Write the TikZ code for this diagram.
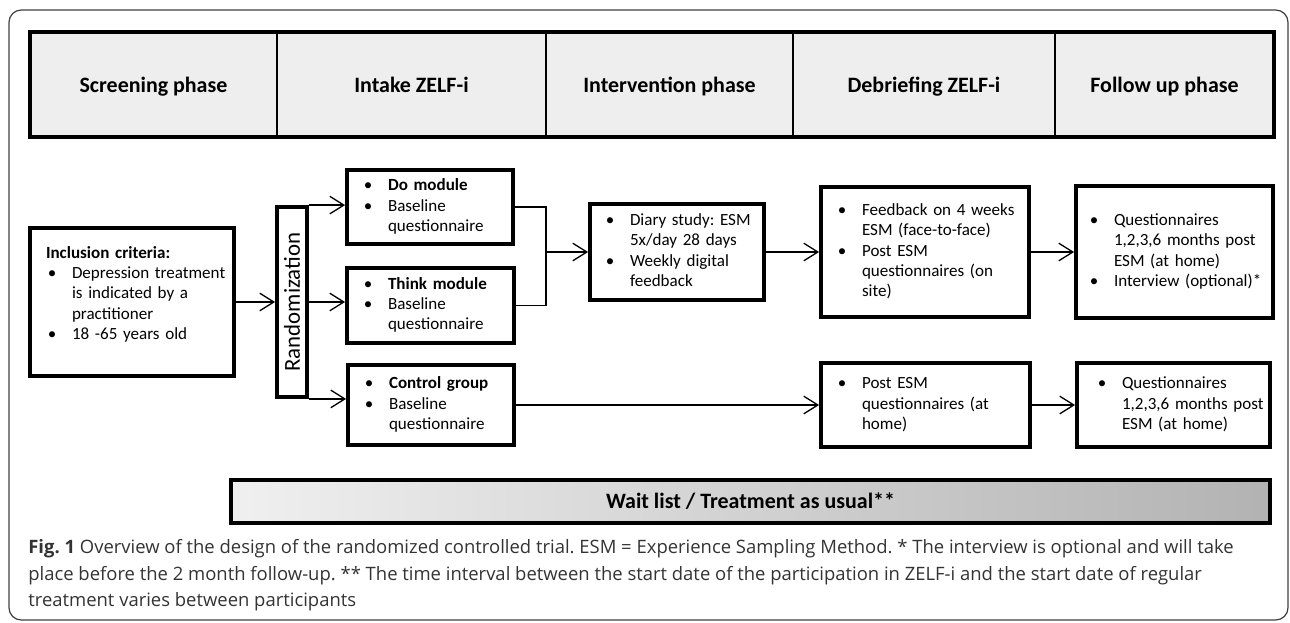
\documentclass[tikz,border=0pt]{standalone}
\usepackage{fontspec}
\setmainfont{Carlito}
\newfontfamily\capfont{Open Sans}
\usepackage{graphicx}
\usepackage{tikz}
\usetikzlibrary{arrows.meta,positioning}
\frenchspacing

\newcommand{\bl}{\hspace{1pt}\textbullet}
\newcommand{\blist}[1]{\begin{tabular}{@{}p{0.52cm}@{}l@{}}#1\end{tabular}}

\begin{document}
\begin{tikzpicture}[x=0.02cm,y=-0.02cm,
  box/.style={draw,line width=2.2pt,inner xsep=0.3cm,inner ysep=0pt,font=\fontsize{9.7}{11.4}\selectfont},
  head/.style={anchor=base,font=\fontsize{12.5}{15}\selectfont\bfseries},
  arr/.style={line width=0.75pt,-{Straight Barb[length=8pt,width=10pt]}},
  lnk/.style={line width=0.75pt}]

\useasboundingbox (0,0) rectangle (1290,622);
\draw[rounded corners=7pt,line width=0.7pt,black!75] (9,10) rectangle (1288,620);

\fill[gray!13] (30,32) rectangle (1274,137);
\foreach \x in {277,546,793,1055}
  \draw[line width=0.8pt] (\x,32) -- (\x,137);
\draw[line width=2.3pt] (30,32) rectangle (1274,137);

\node[head] (h1) at (153.5,92) {Screening phase};
\node[head] (h2) at (411.5,92) {Intake ZELF-i};
\node[head] (h3) at (669.5,92) {Intervention phase};
\node[head] (h4) at (924,92) {Debriefing ZELF-i};
\node[head] (h5) at (1164.5,92) {Follow up phase};

\node[box,minimum width=4.08cm,minimum height=2.96cm,text width=3.44cm,inner xsep=0.32cm] (incl) at (132,302)
  {\blist{\multicolumn{2}{@{}l@{}}{\textbf{Inclusion criteria:}}\\
   \bl & Depression treatment\\ & is indicated by a\\ & practitioner\\ \bl & 18 -65 years old\\[8pt]}};
\node[box,minimum width=0.6cm,minimum height=3.8cm,inner sep=0pt] (rand) at (292,302)
  {\rotatebox{90}{\fontsize{13}{15}\selectfont Randomization}};

\node[box,minimum width=3.32cm,minimum height=1.48cm,text width=2.72cm] (do) at (430,207)
  {\blist{\bl & \textbf{Do module}\\ \bl & Baseline\\ & questionnaire}};
\node[box,minimum width=3.34cm,minimum height=1.5cm,text width=2.74cm] (think) at (430.5,305.5)
  {\blist{\bl & \textbf{Think module}\\ \bl & Baseline\\ & questionnaire}};
\node[box,minimum width=3.32cm,minimum height=1.6cm,text width=2.72cm] (ctrl) at (431,405)
  {\blist{\bl & \textbf{Control group}\\ \bl & Baseline\\ & questionnaire}};

\node[box,minimum width=3.48cm,minimum height=1.92cm,text width=2.92cm,inner xsep=0.28cm] (diary) at (677,252)
  {\blist{\bl & Diary study: ESM\\ & 5x/day 28 days\\ \bl & Weekly digital\\ & feedback}};
\node[box,minimum width=4.16cm,minimum height=2.6cm,text width=3.56cm] (feed) at (925,252)
  {\blist{\bl & Feedback on 4 weeks\\ & ESM (face-to-face)\\ \bl & Post ESM\\ & questionnaires (on\\ & site)}};
\node[box,minimum width=3.94cm,minimum height=2.64cm,text width=3.46cm,inner xsep=0.24cm] (fup) at (1174.5,252)
  {\blist{\bl & Questionnaires\\ & 1,2,3,6 months post\\ & ESM (at home)\\ \bl & Interview (optional)*}};
\node[box,minimum width=4.18cm,minimum height=1.68cm,text width=3.58cm] (post) at (925.5,405)
  {\blist{\bl & Post ESM\\ & questionnaires (at\\ & home)}};
\node[box,minimum width=3.86cm,minimum height=1.68cm,text width=3.1cm,inner xsep=0.38cm] (fup2) at (1173.5,405)
  {\blist{\bl & Questionnaires\\ & 1,2,3,6 months post\\ & ESM (at home)}};

\draw[arr] (incl) -- (rand);
\draw[arr] (rand.north east) -- (rand.north east -| do.west);
\draw[arr] (rand.east) -- (rand.east -| think.west);
\draw[arr] (rand.south east) -- (rand.south east -| ctrl.west);
\coordinate (merge) at (546,252);
\draw[lnk] (do.east) -| (merge) |- (think.east);
\draw[arr] (merge) -- (diary.west);
\draw[arr] (diary) -- (feed);
\draw[arr] (feed) -- (fup);
\draw[arr] (ctrl) -- (post);
\draw[arr] (post) -- (fup2);

\node[draw,line width=2.3pt,left color=gray!12,right color=gray!60,minimum width=20.78cm,minimum height=0.86cm,
  font=\fontsize{12.5}{15}\selectfont\bfseries] (wait) at (750.5,501.5) {Wait list / Treatment as usual**};

\node[anchor=north west,align=left,inner sep=0pt,text=black!80,font=\capfont\fontsize{10.5}{15.2}\selectfont] (cap) at (28,539)
  {\textbf{Fig. 1} Overview of the design of the randomized controlled trial. ESM = Experience Sampling Method. * The interview is optional and will take\\
   place before the 2 month follow-up. ** The time interval between the start date of the participation in ZELF-i and the start date of regular\\
   treatment varies between participants};
\end{tikzpicture}
\end{document}
